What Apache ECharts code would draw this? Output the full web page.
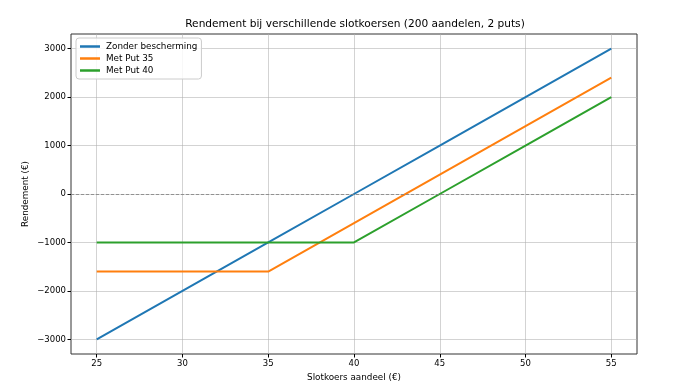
<!DOCTYPE html>
<html><head><meta charset="utf-8">
<script src="https://cdn.jsdelivr.net/npm/echarts@6/dist/echarts.min.js"></script>
<style>html,body{margin:0;padding:0;background:#fff}#c{width:692px;height:386px}</style>
</head><body><div id="c"></div>
<script>
const prices = [25, 30, 35, 40, 45, 50, 55];
const zonder = [-3000, -2000, -1000, 0, 1000, 2000, 3000];
const put35 = [-1600, -1600, -1600, -600, 400, 1400, 2400];
const put40 = [-1000, -1000, -1000, -1000, 0, 1000, 2000];
const xTicks = [25, 30, 35, 40, 45, 50, 55];
const yTicks = [-3000, -2000, -1000, 0, 1000, 2000, 3000];
const seriesNames = ['Zonder bescherming', 'Met Put 35', 'Met Put 40'];
const colors = ['#1f77b4', '#ff7f0e', '#2ca02c'];

const font = 'DejaVu Sans';
const chart = echarts.init(document.getElementById('c'));
const mk = (name, vals, color, extra) => Object.assign({
  name, type: 'line', data: prices.map((p, i) => [p, vals[i]]),
  showSymbol: false, symbol: 'none', lineStyle: {color, width: 2}, itemStyle: {color},
  animation: false, z: 3
}, extra || {});
chart.setOption({
  animation: false,
  title: {text: 'Rendement bij verschillende slotkoersen (200 aandelen, 2 puts)', left: 350, top: 14, textAlign: 'center',
    textStyle: {fontFamily: font, fontSize: 10.6, fontWeight: 'normal', color: '#000'}},
  grid: {left: 71, right: 55, top: 34, bottom: 32, show: true, borderColor: '#333', borderWidth: 1, outerBoundsMode: 'none', containLabel: false},
  legend: {orient: 'vertical', left: 76, top: 38, data: seriesNames, icon: 'rect', itemWidth: 20, itemHeight: 2.5,
    itemGap: 3, padding: [4, 4, 4, 4], backgroundColor: 'rgba(255,255,255,0.85)', borderColor: '#ccc', borderWidth: 1, borderRadius: 3,
    textStyle: {fontFamily: font, fontSize: 8.8, color: '#000', padding: [0, 0, 0, 1]}},
  xAxis: {type: 'value', min: 23.5, max: 56.5,
    name: 'Slotkoers aandeel (€)', nameLocation: 'middle', nameGap: 17,
    nameTextStyle: {fontFamily: font, fontSize: 8.8, color: '#000'},
    axisLine: {show: false, onZero: false},
    axisTick: {show: true, length: 3.5, customValues: xTicks, lineStyle: {color: '#000'}},
    axisLabel: {customValues: xTicks, fontFamily: font, fontSize: 8.5, color: '#000', margin: 5},
    splitLine: {show: true, lineStyle: {color: '#b0b0b0', width: 0.8, opacity: 0.7}}},
  yAxis: {type: 'value', min: -3300, max: 3300,
    name: 'Rendement (€)', nameLocation: 'middle', nameGap: 41, nameRotate: 90, nameMoveOverlap: false,
    nameTextStyle: {fontFamily: font, fontSize: 8.8, color: '#000'},
    axisLine: {show: false, onZero: false},
    axisTick: {show: true, length: 3.5, customValues: yTicks, lineStyle: {color: '#000'}},
    axisLabel: {customValues: yTicks, fontFamily: font, fontSize: 8.5, color: '#000', margin: 5,
      formatter: v => v < 0 ? '\u2212' + Math.abs(v) : String(v)},
    splitLine: {show: true, lineStyle: {color: '#b0b0b0', width: 0.8, opacity: 0.7}}},
  series: [
    mk(seriesNames[0], zonder, colors[0], {markLine: {silent: true, symbol: 'none', label: {show: false},
      lineStyle: {color: '#808080', type: [3, 2], width: 0.8}, data: [{yAxis: 0}], animation: false}}),
    mk(seriesNames[1], put35, colors[1]),
    mk(seriesNames[2], put40, colors[2])
  ]
});
</script></body></html>
